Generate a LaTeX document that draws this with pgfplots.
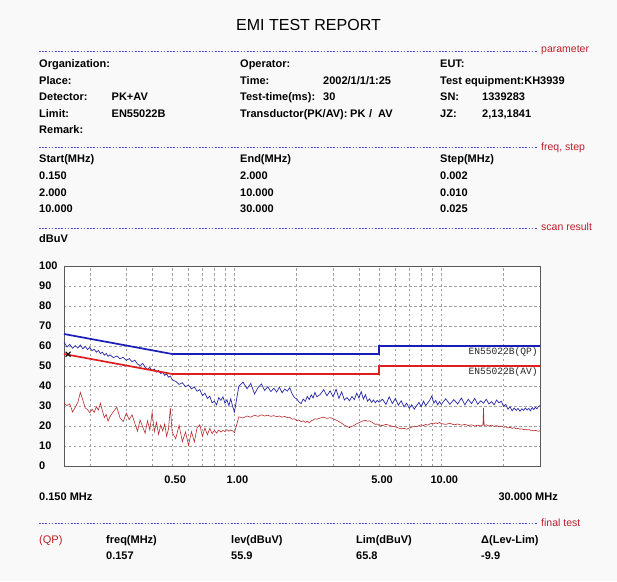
\documentclass[border=0pt]{standalone}
\usepackage{fontspec}
\setmainfont{Liberation Sans}
\newfontfamily\monof{Liberation Mono}
\usepackage{pgfplots}
\usepackage{pgfplotstable}
\pgfplotsset{compat=1.18}
\definecolor{bgc}{RGB}{249,249,250}
\definecolor{sep}{RGB}{70,70,200}
\definecolor{lbl}{RGB}{190,30,40}
\definecolor{qplim}{RGB}{25,30,185}
\definecolor{avlim}{RGB}{225,30,30}
\definecolor{pktr}{RGB}{40,40,170}
\definecolor{avtr}{RGB}{185,45,45}
\newcommand{\lab}{\fontsize{11}{13}\selectfont\bfseries}
\newcommand{\redf}{\fontsize{10.5}{12}\selectfont}

\pgfplotstableread{
f v
0.150 62.0
0.155 59.5
0.160 60.8
0.165 58.9
0.170 60.2
0.175 59.0
0.180 60.5
0.185 58.6
0.190 59.8
0.195 58.2
0.200 59.3
0.205 57.6
0.210 58.4
0.215 56.9
0.220 57.8
0.225 56.2
0.230 56.9
0.235 55.4
0.240 56.3
0.245 54.8
0.250 55.6
0.26 54.2
0.27 55.0
0.28 53.6
0.29 54.4
0.30 52.8
0.31 53.7
0.32 52.1
0.33 52.9
0.34 51.0
0.35 50.2
0.36 51.3
0.37 49.4
0.38 48.2
0.39 49.3
0.40 47.6
0.41 48.5
0.42 46.9
0.43 47.8
0.44 46.2
0.45 47.0
0.46 45.3
0.47 46.1
0.48 44.4
0.49 45.0
0.50 43.2
0.52 42.3
0.54 40.8
0.56 41.6
0.58 39.7
0.60 40.4
0.62 38.6
0.64 39.5
0.66 37.4
0.68 38.2
0.70 35.2
0.72 36.4
0.74 33.8
0.76 34.9
0.78 31.6
0.80 32.4
0.82 30.6
0.84 34.2
0.86 32.8
0.88 34.6
0.90 31.4
0.92 33.1
0.94 30.2
0.96 33.6
0.98 29.8
1.00 27.0
1.05 39.8
1.10 42.0
1.15 38.6
1.20 41.3
1.25 36.0
1.30 39.2
1.35 41.0
1.40 37.8
1.45 39.6
1.50 37.2
1.55 38.9
1.60 37.0
1.65 39.4
1.70 36.6
1.75 38.5
1.80 37.4
1.85 39.2
1.90 36.1
1.95 34.2
2.00 33.6
2.05 32.0
2.10 31.2
2.15 33.5
2.20 32.3
2.25 34.8
2.30 33.2
2.35 35.6
2.40 34.0
2.45 36.8
2.50 34.6
2.6 35.8
2.7 38.2
2.8 35.1
2.9 37.6
3.0 34.6
3.1 38.4
3.2 33.8
3.3 37.1
3.4 33.0
3.5 34.2
3.6 32.6
3.7 34.8
3.8 33.2
3.9 36.4
4.0 34.0
4.1 37.2
4.2 33.5
4.3 35.6
4.4 32.4
4.5 33.6
4.6 31.8
4.7 33.0
4.8 31.6
4.9 32.8
5.0 31.9
5.2 33.4
5.4 30.8
5.6 34.6
5.8 31.2
6.0 33.8
6.2 30.4
6.4 32.6
6.6 29.6
6.8 31.4
7.0 28.8
7.2 30.6
7.4 28.4
7.6 30.2
7.8 31.8
8.0 29.6
8.2 32.4
8.4 30.2
8.6 31.6
8.8 33.0
9.0 35.0
9.2 31.4
9.4 32.8
9.6 30.6
9.8 32.2
10.0 30.8
10.5 33.6
11 30.8
11.5 33.2
12 31.0
12.5 34.0
13 30.6
13.5 33.4
14 31.2
14.5 33.8
15 30.9
15.5 32.6
16 31.4
16.5 33.4
17 31.0
17.5 32.2
18 30.6
18.5 33.0
19 31.6
19.5 32.4
20 29.8
20.5 30.8
21 28.4
21.5 29.6
22 27.6
22.5 29.0
23 27.8
23.5 28.8
24 27.4
24.5 28.6
25 27.8
25.5 29.0
26 28.0
26.5 28.8
27 27.6
27.5 29.2
28 28.2
28.5 29.4
29 28.6
29.5 29.8
30 30.2
}\pk

\pgfplotstableread{
f v
0.150 31.5
0.155 30.2
0.160 31.0
0.165 27.0
0.170 29.4
0.175 31.8
0.180 36.8
0.185 33.0
0.190 29.0
0.195 28.2
0.200 26.6
0.205 28.4
0.210 26.8
0.215 29.6
0.220 28.0
0.225 31.4
0.230 27.6
0.235 24.2
0.240 25.8
0.245 22.4
0.250 24.6
0.26 27.2
0.27 29.4
0.28 24.0
0.29 22.2
0.30 26.4
0.31 23.2
0.32 25.6
0.33 21.4
0.34 17.4
0.35 23.0
0.36 19.6
0.37 16.4
0.38 22.6
0.39 18.0
0.40 26.8
0.41 17.2
0.42 21.8
0.43 15.8
0.44 20.4
0.45 17.6
0.46 21.0
0.47 14.8
0.48 18.6
0.49 29.0
0.50 17.0
0.52 13.6
0.54 20.4
0.56 12.2
0.58 17.0
0.60 10.4
0.62 17.2
0.64 12.0
0.66 19.2
0.68 20.6
0.70 14.8
0.72 19.0
0.74 15.6
0.76 18.8
0.78 16.2
0.80 17.8
0.82 16.4
0.84 18.0
0.86 17.0
0.88 17.8
0.90 17.2
0.92 18.2
0.94 17.4
0.96 18.0
0.98 17.6
1.00 16.6
1.05 24.6
1.10 24.0
1.15 25.0
1.20 24.4
1.25 25.4
1.30 24.8
1.35 25.6
1.40 25.0
1.45 25.4
1.50 24.8
1.55 25.2
1.60 24.6
1.65 25.0
1.70 24.4
1.75 24.8
1.80 24.2
1.85 24.4
1.90 23.4
1.95 23.6
2.00 22.6
2.05 23.0
2.10 22.2
2.15 22.6
2.20 21.8
2.25 22.4
2.30 21.6
2.35 22.6
2.40 23.0
2.45 23.6
2.50 23.4
2.6 24.0
2.7 24.4
2.8 23.8
2.9 24.2
3.0 23.6
3.1 23.0
3.2 22.2
3.3 21.4
3.4 20.4
3.5 19.8
3.6 19.2
3.7 19.8
3.8 20.4
3.9 21.2
4.0 21.6
4.1 22.2
4.2 22.6
4.3 22.8
4.4 22.4
4.5 22.6
4.6 22.0
4.7 21.4
4.8 20.8
4.9 21.0
5.0 20.4
5.2 20.2
5.4 20.8
5.6 20.4
5.8 19.8
6.0 19.6
6.2 19.0
6.4 18.6
6.6 18.8
6.8 18.4
7.0 19.0
7.2 19.4
7.4 20.0
7.6 19.6
7.8 20.2
8.0 20.6
8.2 20.2
8.4 20.8
8.6 20.4
8.8 21.0
9.0 21.4
9.2 21.0
9.4 21.6
9.6 21.2
9.8 21.8
10.0 21.2
10.5 20.8
11 21.4
11.5 20.6
12 21.0
12.5 20.4
13 20.8
13.5 20.2
14 20.6
14.5 20.0
15 20.4
15.5 20.0
15.9 20.6
16.0 29.0
16.1 20.2
16.5 20.6
17 20.0
17.5 20.4
18 19.8
18.5 20.2
19 19.6
19.5 20.0
20 19.4
20.5 19.6
21 19.0
21.5 19.4
22 18.8
22.5 19.2
23 18.6
23.5 18.8
24 18.4
24.5 18.6
25 18.2
25.5 18.4
26 18.0
26.5 18.2
27 17.8
27.5 17.8
28 17.6
28.5 17.8
29 17.6
29.5 17.4
30 17.6
}\av

\begin{document}
\begin{tikzpicture}
\fill[bgc] (0,0) rectangle (617pt,581pt);
\begin{axis}[
  at={(64pt,115pt)}, anchor=south west,
  scale only axis, width=476pt, height=200pt,
  xmode=log, xmin=0.15, xmax=30, ymin=0, ymax=100,
  axis background/.style={fill=white},
  axis line style={draw={rgb,255:red,90;green,90;blue,90}, line width=0.9pt},
  xtick={0.2,0.3,0.4,0.5,0.6,0.7,0.8,0.9,1,2,3,4,5,6,7,8,9,10,20},
  xticklabels={},
  extra x ticks={0.5,1,5,10},
  extra x tick labels={0.50,1.00,5.00,10.00},
  extra x tick style={grid=none},
  xticklabel style={font=\lab, anchor=center, inner sep=0pt, yshift=-14pt, xshift=3pt},
  ytick={0,10,20,30,40,50,60,70,80,90,100},
  yticklabels={0,10,20,30,40,50,60,70,80,90,100},
  yticklabel style={font=\lab, anchor=west, inner sep=0pt, xshift=-25pt},
  major tick length=0pt,
  grid=major,
  major grid style={dash pattern=on 2.5pt off 2.5pt, draw={rgb,255:red,160;green,160;blue,160}, line width=0.6pt},
]
\addplot[avtr, line width=0.6pt] table[x=f,y=v] {\av};
\addplot[pktr, line width=0.7pt] table[x=f,y=v] {\pk};
\addplot[qplim, line width=1.7pt] coordinates {(0.15,66) (0.5,56) (5,56) (5,60) (30,60)};
\addplot[avlim, line width=1.7pt] coordinates {(0.15,56) (0.5,46) (5,46) (5,50) (30,50)};
\addplot[only marks, mark=x, mark size=3.5pt, black, mark options={line width=1.1pt}] coordinates {(0.157,55.9)};
\node[anchor=east, inner sep=0pt, text={rgb,255:red,40;green,40;blue,40}, font=\monof\fontsize{9.6}{11}\selectfont] at (axis cs:29.3,57.2) {EN55022B(QP)};
\node[anchor=east, inner sep=0pt, text={rgb,255:red,40;green,40;blue,40}, font=\monof\fontsize{9.6}{11}\selectfont] at (axis cs:29.3,47.2) {EN55022B(AV)};
\end{axis}
\begin{scope}[shift={(0pt,581pt)}, x=1pt, y=-1pt]
\node[font=\fontsize{16}{18}\selectfont, inner sep=0pt] at (308.5,25) {EMI TEST REPORT};
\foreach \yy in {51,147,228,523} {
  \draw[sep, dash pattern=on 1.6pt off 1.6pt, line width=0.6pt] (39,\yy) -- (538,\yy);
}
\begin{scope}[every node/.style={anchor=base west, inner sep=0pt, text=lbl, font=\redf, yshift=-3pt}]
\node at (541,50) {parameter};
\node at (541,148) {freq, step};
\node at (541,228) {scan result};
\node at (541,523) {final test};
\node[font=\fontsize{11}{13}\selectfont, yshift=-1pt] at (39,539) {(QP)};
\end{scope}
\begin{scope}[every node/.style={anchor=base west, inner sep=0pt, font=\lab, yshift=-4pt}]
\node at (39,63.3) {Organization:};
\node at (39,80.3) {Place:};
\node at (39,96.7) {Detector:};
\node at (39,113.3) {Limit:};
\node at (39,130) {Remark:};
\node at (111.5,96.7) {PK+AV};
\node at (111.5,113.3) {EN55022B};
\node at (240,63.3) {Operator:};
\node at (240,80.3) {Time:};
\node at (240,96.7) {Test-time(ms):};
\node at (240,113.3) {Transductor(PK/AV):};
\node at (323,80.3) {2002/1/1/1:25};
\node at (323,96.7) {30};
\node at (350,113.3) {PK};
\node at (369,113.3) {/};
\node at (378,113.3) {AV};
\node at (440,63.3) {EUT:};
\node at (440,80.3) {Test equipment:KH3939};
\node at (440,96.7) {SN:};
\node at (440,113.3) {JZ:};
\node at (482,96.7) {1339283};
\node at (482,113.3) {2,13,1841};
\node at (39,159) {Start(MHz)};
\node at (39,176) {0.150};
\node at (39,193) {2.000};
\node at (39,209) {10.000};
\node at (240,159) {End(MHz)};
\node at (240,176) {2.000};
\node at (240,193) {10.000};
\node at (240,209) {30.000};
\node at (440,159) {Step(MHz)};
\node at (440,176) {0.002};
\node at (440,193) {0.010};
\node at (440,209) {0.025};
\node at (39,239) {dBuV};
\node at (39,496.7) {0.150 MHz};
\node[anchor=base east] at (558,496.7) {30.000 MHz};
\node at (106,539) {freq(MHz)};
\node at (231,539) {lev(dBuV)};
\node at (356,539) {Lim(dBuV)};
\node at (481,539) {Δ(Lev-Lim)};
\node at (106,555) {0.157};
\node at (231,555) {55.9};
\node at (356,555) {65.8};
\node at (481,555) {-9.9};
\end{scope}
\end{scope}
\pgfresetboundingbox
\path (0,0) rectangle (617pt,581pt);
\end{tikzpicture}
\end{document}
